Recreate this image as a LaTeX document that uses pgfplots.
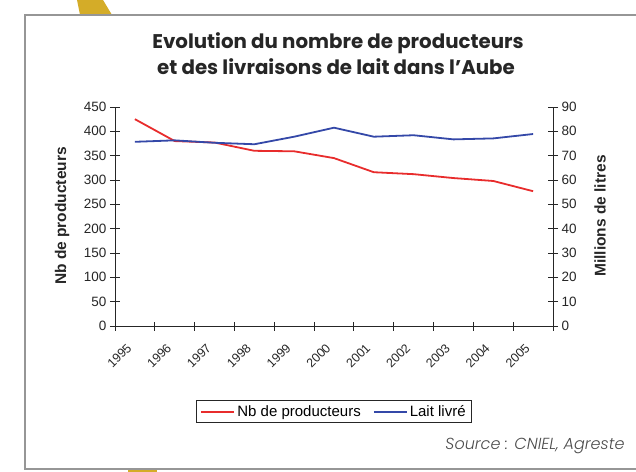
\documentclass[border=0pt]{standalone}
\usepackage{pgfplots}
\pgfplotsset{compat=1.18}
\usepackage{fontspec}
\setmainfont{Liberation Sans}
\newfontfamily\titlefont{Poppins}
\newfontfamily\srcfont{Poppins Light Italic}

\definecolor{prodred}{RGB}{232,44,44}
\definecolor{laitblue}{RGB}{52,72,168}
\definecolor{framegray}{RGB}{150,150,150}
\definecolor{tabgold}{RGB}{212,172,40}

\pgfplotstableread{
x prod
0 425
1 380
2 377
3 360
4 359
5 345
6 316
7 312
8 304
9 298
10 277
}\prodtable

\pgfplotstableread{
x lait
0 75.7
1 76.3
2 75.3
3 74.7
4 77.8
5 81.5
6 77.8
7 78.4
8 76.7
9 77.1
10 78.9
}\laittable

\newcommand{\tickfont}{\fontsize{13.5bp}{15bp}\selectfont}

\pgfplotsset{
  bothaxes/.style={
    at={(115bp,-326bp)}, anchor=south west,
    scale only axis, width=438bp, height=219bp,
    xmin=-0.5, xmax=10.5,
    axis line style={black!85, line width=0.9bp},
    tick align=center,
    major tick length=10bp,
    tick style={black!85, line width=0.9bp},
    tick label style={font=\tickfont, text=black!85},
    /pgf/number format/assume math mode=true,
    clip=false,
  },
}

\begin{document}
\begin{tikzpicture}
\path[use as bounding box] (0,0) rectangle (636bp,-472bp);

% frame and gold tab
\fill[tabgold] (77bp,0bp) -- (103bp,0bp) -- (112bp,-15bp) -- (80bp,-15bp) -- cycle;
\fill[tabgold] (128bp,-470bp) rectangle (157bp,-472bp);
\draw[framegray, line width=2.5bp] (636bp,-15bp) -- (25bp,-15bp) -- (25bp,-469bp) -- (636bp,-469bp);

% title
\node[anchor=base, font=\titlefont\bfseries\fontsize{19.8bp}{22bp}\selectfont, text=black!85]
  at (338bp,-48bp) {Evolution du nombre de producteurs};
\node[anchor=base, font=\titlefont\bfseries\fontsize{19.8bp}{22bp}\selectfont, text=black!85]
  at (336bp,-74bp) {et des livraisons de lait dans l’Aube};

\begin{axis}[
  bothaxes,
  axis x line*=bottom,
  axis y line*=left,
  ymin=0, ymax=450,
  ytick={0,50,...,450},
  xtick={0,...,10},
  xticklabels={1995,1996,1997,1998,1999,2000,2001,2002,2003,2004,2005},
  major x tick style={draw=none},
  minor xtick={-0.5,0.5,...,10.5},
  minor tick length=9bp,
  minor x tick style={black!85, line width=0.9bp},
  x tick label style={rotate=45, anchor=north east, inner sep=0.5bp,
    font=\fontsize{12.5bp}{13bp}\selectfont, xshift=-14bp, yshift=-1.5bp},
  legend columns=2,
  legend style={
    at={(0.5,-0.391)}, anchor=center,
    draw=black!85, line width=1.2bp,
    font=\fontsize{15bp}{17bp}\selectfont,
    inner xsep=4bp, inner ysep=3bp,
    /tikz/every even column/.append style={column sep=10bp},
  },
  legend image code/.code={\draw[#1, line width=2bp] (0bp,0bp) -- (33bp,0bp);},
]
\addplot[prodred, line width=1.8bp] table[x=x, y=prod] {\prodtable};
\addlegendentry{Nb de producteurs}
\addlegendimage{laitblue}
\addlegendentry{Lait livré}
\end{axis}

\begin{axis}[
  bothaxes,
  axis x line=none,
  axis y line*=right,
  ymin=0, ymax=90,
  ytick={0,10,...,90},
]
\addplot[laitblue, line width=1.8bp] table[x=x, y=lait] {\laittable};
\end{axis}

% axis titles
\node[rotate=90, font=\bfseries\fontsize{15.5bp}{17bp}\selectfont, text=black!85]
  at (62bp,-216bp) {Nb de producteurs};
\node[rotate=90, font=\bfseries\fontsize{15.5bp}{17bp}\selectfont, text=black!85]
  at (600bp,-216bp) {Millions de litres};

% source
\node[anchor=base east, font=\srcfont\fontsize{16bp}{18bp}\selectfont, text=black!70]
  at (628bp,-449bp) {Source : CNIEL, Agreste};
\end{tikzpicture}
\end{document}
